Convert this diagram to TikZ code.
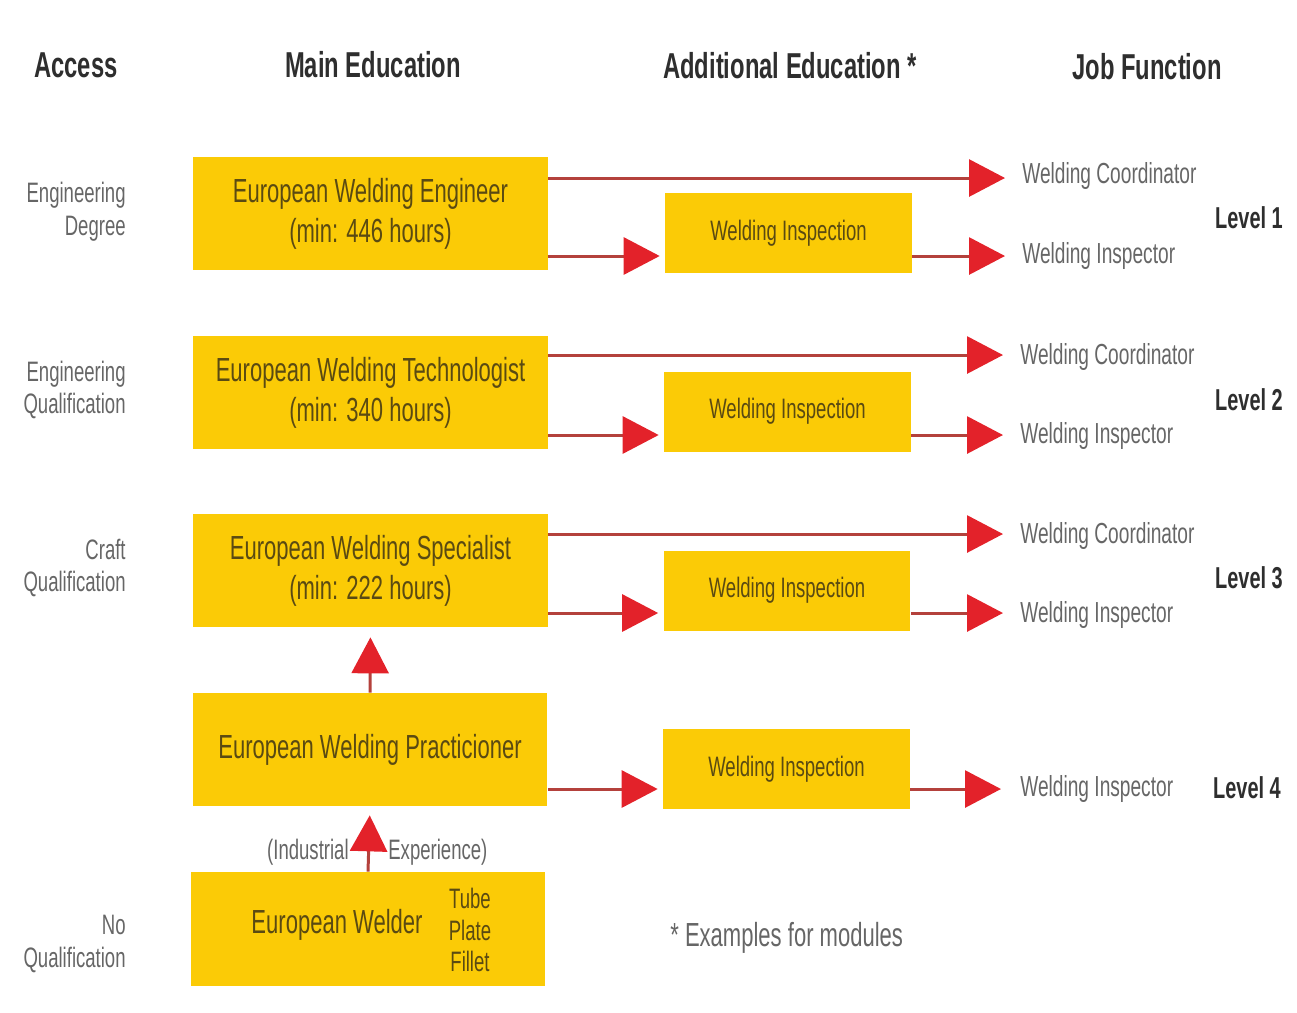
\documentclass[tikz,border=0pt]{standalone}
\usepackage{fontspec}
\setmainfont{Liberation Sans}[FakeStretch=0.66]
\usetikzlibrary{arrows.meta}
\definecolor{boxyel}{HTML}{FBCB06}
\definecolor{boxtext}{HTML}{5A4A12}
\definecolor{labgray}{HTML}{666666}
\definecolor{headgray}{HTML}{2E2E2E}
\definecolor{linered}{HTML}{B4413C}
\definecolor{tipred}{HTML}{E3222A}
\tikzset{
  mainbox/.style={fill=boxyel, draw=none, minimum width=7.1cm, minimum height=2.26cm, inner sep=0pt,
    text=boxtext, align=center, font=\fontsize{19}{22.7}\selectfont},
  inspbox/.style={fill=boxyel, draw=none, minimum width=4.94cm, minimum height=1.6cm, inner sep=0pt,
    text=boxtext, align=center, font=\fontsize{16}{19}\selectfont},
  boxtxt/.style={text=boxtext, inner sep=0pt, align=center, font=\fontsize{19}{22.7}\selectfont},
  smallboxtxt/.style={text=boxtext, inner sep=0pt, align=center, font=\fontsize{16}{18}\selectfont},
  head/.style={text=headgray, inner sep=0pt, font=\fontsize{20.5}{24}\selectfont\bfseries},
  level/.style={text=headgray, inner sep=0pt, font=\fontsize{17.2}{20}\selectfont\bfseries},
  joblab/.style={text=labgray, inner sep=0pt, anchor=west, font=\fontsize{16.5}{19}\selectfont},
  acclab/.style={text=labgray, inner sep=0pt, anchor=east, align=right, font=\fontsize{16}{18.7}\selectfont},
  note/.style={text=labgray, inner sep=0pt, font=\fontsize{16}{19}\selectfont},
  conn/.style={draw=linered, line width=1.7pt,
    -{Triangle[length=0.72cm,width=0.74cm,color=tipred,fill=tipred]}},
}
\begin{document}
\begin{tikzpicture}[x=0.02cm,y=-0.02cm]
\useasboundingbox (0,0) rectangle (1297,1012);

% headers
\node[head] (h1) at (76,65) {Access};
\node[head] (h2) at (373,65) {Main Education};
\node[head] (h3) at (790,66) {Additional Education *};
\node[head] (h4) at (1147,67) {Job Function};

% access labels
\node[acclab] (a1) at (126,212) {Engineering\\Degree};
\node[acclab] (a2) at (126,390) {Engineering\\Qualification};
\node[acclab] (a3) at (126,568) {Craft\\Qualification};
\node[acclab] (a4) at (126,944) {No\\Qualification};

% main education boxes
\node[mainbox] (e1) at (370.5,213.5) {European Welding Engineer\\(min: 446 hours)};
\node[mainbox] (e2) at (370.5,392.5) {European Welding Technologist\\(min: 340 hours)};
\node[mainbox] (e3) at (370.5,570.5) {European Welding Specialist\\(min: 222 hours)};
\node[mainbox] (e4) at (370,749.5) {European Welding Practicioner};
\node[mainbox, minimum width=7.08cm, minimum height=2.28cm] (e5) at (368,929) {};
\node[boxtxt] (e5t) at (337,925) {European Welder};
\node[smallboxtxt] (e5s) at (470,930) {Tube\\Plate\\Fillet};

% inspection boxes
\node[inspbox] (i1) at (788.5,233) {Welding Inspection};
\node[inspbox] (i2) at (787.5,411.5) {Welding Inspection};
\node[inspbox] (i3) at (787,590.5) {Welding Inspection};
\node[inspbox] (i4) at (786.5,769) {Welding Inspection};

% tip coordinates
\coordinate (c1) at (1005,178);
\coordinate (t1) at (1005,256);
\coordinate (c2) at (1003,355);
\coordinate (t2) at (1003,435);
\coordinate (c3) at (1003,534);
\coordinate (t3) at (1003,613);
\coordinate (t4) at (1001,789);

% job function labels
\node[joblab] (j1a) at (1022,176) {Welding Coordinator};
\node[joblab] (j1b) at (1022,256) {Welding Inspector};
\node[joblab] (j2a) at (1020,357) {Welding Coordinator};
\node[joblab] (j2b) at (1020,436) {Welding Inspector};
\node[joblab] (j3a) at (1020,536) {Welding Coordinator};
\node[joblab] (j3b) at (1020,615) {Welding Inspector};
\node[joblab] (j4b) at (1020,789) {Welding Inspector};

% levels
\node[level] (l1) at (1249,218) {Level 1};
\node[level] (l2) at (1249,400) {Level 2};
\node[level] (l3) at (1249,578) {Level 3};
\node[level] (l4) at (1247,788) {Level 4};

% arrows
\draw[conn] (e1.east |- c1) -- (c1);
\draw[conn, shorten >=0.1cm] (e1.east |- t1) -- (i1.west |- t1);
\draw[conn] (i1.east |- t1) -- (t1);
\draw[conn] (e2.east |- c2) -- (c2);
\draw[conn, shorten >=0.1cm] (e2.east |- t2) -- (i2.west |- t2);
\draw[conn] (i2.east |- t2) -- (t2);
\draw[conn] (e3.east |- c3) -- (c3);
\draw[conn, shorten >=0.1cm] (e3.east |- t3) -- (i3.west |- t3);
\draw[conn] (i3.east |- t3) -- (t3);
\draw[conn, shorten >=0.1cm] (e4.east |- t4) -- (i4.west |- t4);
\draw[conn] (i4.east |- t4) -- (t4);
\draw[conn, shorten >=0.2cm] (e4.north) -- (e3.south);
\draw[conn, shorten >=0.18cm] (e5.north) -- (e4.south);

% industrial experience
\node[note, anchor=east] (ie1) at (349,852) {(Industrial};
\node[note, anchor=west] (ie2) at (388,852) {Experience)};

% footnote
\node[note, anchor=west, font=\fontsize{19}{22}\selectfont] (fn) at (670,938) {* Examples for modules};
\end{tikzpicture}
\end{document}
